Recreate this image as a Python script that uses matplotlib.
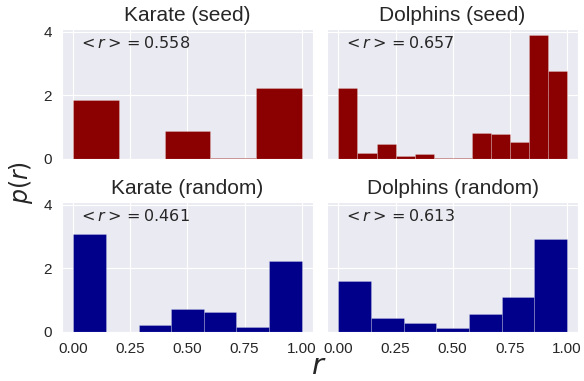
import numpy as np
import matplotlib
matplotlib.use("Agg")
import matplotlib.pyplot as plt
import seaborn as sns

sns.set_style("darkgrid")
plt.rcParams["font.family"] = ["Liberation Sans", "DejaVu Sans"]

# Normalised histogram heights p(r) for each network / sampling scheme
karate_seed = [1.84, 0.0, 0.87, 0.04, 2.23]
dolphins_seed = [2.23, 0.18, 0.48, 0.08, 0.16, 0.04, 0.02, 0.81, 0.78, 0.53, 3.89, 2.75]
karate_random = [3.08, 0.0, 0.20, 0.72, 0.61, 0.15, 2.22]
dolphins_random = [1.61, 0.42, 0.28, 0.12, 0.57, 1.08, 2.92]

# Mean r for each panel
mean_r = {"Karate (seed)": 0.558, "Dolphins (seed)": 0.657,
          "Karate (random)": 0.461, "Dolphins (random)": 0.613}

panels = [
    ("Karate (seed)", karate_seed, "#8b0000"),
    ("Dolphins (seed)", dolphins_seed, "#8b0000"),
    ("Karate (random)", karate_random, "#00008b"),
    ("Dolphins (random)", dolphins_random, "#00008b"),
]

fig, axes = plt.subplots(2, 2, sharex=True, sharey=True, figsize=(5.84, 3.81), dpi=100)
fig.subplots_adjust(left=0.106, right=0.99, bottom=0.129, top=0.924,
                    wspace=0.056, hspace=0.33)

for ax, (title, heights, color) in zip(axes.flat, panels):
    n = len(heights)
    edges = np.linspace(0, 1, n + 1)
    ax.bar(edges[:-1], heights, width=np.diff(edges), align="edge",
           color=color, edgecolor=(1, 1, 1, 0.25), linewidth=0.6)
    ax.set_title(title, fontsize=15, color="#262626")
    ax.text(0.063, 0.89, r"$<r>=%.3f$" % mean_r[title], transform=ax.transAxes,
            fontsize=11.5, va="center", ha="left", color="#262626")
    ax.set_xticks([0, 0.25, 0.5, 0.75, 1.0])
    ax.set_yticks([0, 2, 4])
    ax.tick_params(labelsize=11, colors="#262626")

fig.text(0.036, 0.52, r"$p(r)$", rotation=90, fontsize=17, va="center", ha="center",
         color="#262626")
fig.text(0.545, 0.04, r"$r$", fontsize=21, va="center", ha="center", color="#262626")

fig.savefig("out.png", dpi=100)
